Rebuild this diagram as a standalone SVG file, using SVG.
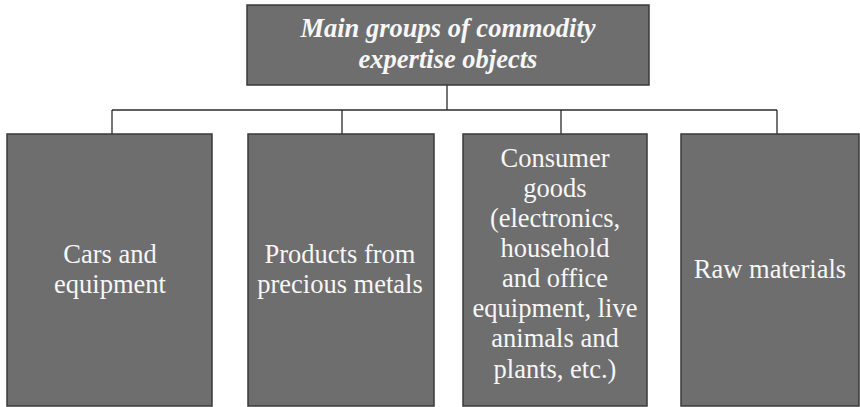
<svg xmlns="http://www.w3.org/2000/svg" width="860" height="407" viewBox="0 0 860 407">
  <style>
    .box { fill: #6e6e6e; stroke: #3a3a3a; stroke-width: 1.5; }
    .lbl { fill: #f7f7f7; font-family: "Liberation Serif", "Times New Roman", serif; font-size: 26.5px; text-anchor: middle; }
    .title { font-weight: bold; font-style: italic; }
    .conn { fill: none; stroke: #2a2a2a; stroke-width: 1.3; }
  </style>
  <rect width="860" height="407" fill="#ffffff"/>

  <g id="connectors">
    <line class="conn" x1="447" y1="85" x2="447" y2="110"/>
    <line class="conn" x1="112" y1="110" x2="777" y2="110"/>
    <line class="conn" x1="112" y1="110" x2="112" y2="134"/>
    <line class="conn" x1="342" y1="110" x2="342" y2="134"/>
    <line class="conn" x1="561" y1="110" x2="561" y2="134"/>
    <line class="conn" x1="777" y1="110" x2="777" y2="134"/>
  </g>

  <g id="root">
    <rect class="box" x="247" y="5" width="402" height="80"/>
    <text class="lbl title" x="448" y="37">Main groups of commodity</text>
    <text class="lbl title" x="448" y="68">expertise objects</text>
  </g>

  <g id="cars">
    <rect class="box" x="7" y="134" width="205" height="272"/>
    <text class="lbl" x="110" y="263">Cars and</text>
    <text class="lbl" x="110" y="293">equipment</text>
  </g>

  <g id="metals">
    <rect class="box" x="248" y="134" width="186" height="272"/>
    <text class="lbl" x="340" y="263">Products from</text>
    <text class="lbl" x="340" y="293">precious metals</text>
  </g>

  <g id="consumer">
    <rect class="box" x="463" y="134" width="184" height="272"/>
    <text class="lbl" x="555" y="167">Consumer</text>
    <text class="lbl" x="555" y="197">goods</text>
    <text class="lbl" x="555" y="227">(electronics,</text>
    <text class="lbl" x="555" y="257">household</text>
    <text class="lbl" x="555" y="287">and office</text>
    <text class="lbl" x="555" y="317">equipment, live</text>
    <text class="lbl" x="555" y="347">animals and</text>
    <text class="lbl" x="555" y="378">plants, etc.)</text>
  </g>

  <g id="raw">
    <rect class="box" x="681" y="134" width="178" height="272"/>
    <text class="lbl" x="770" y="278">Raw materials</text>
  </g>
</svg>
